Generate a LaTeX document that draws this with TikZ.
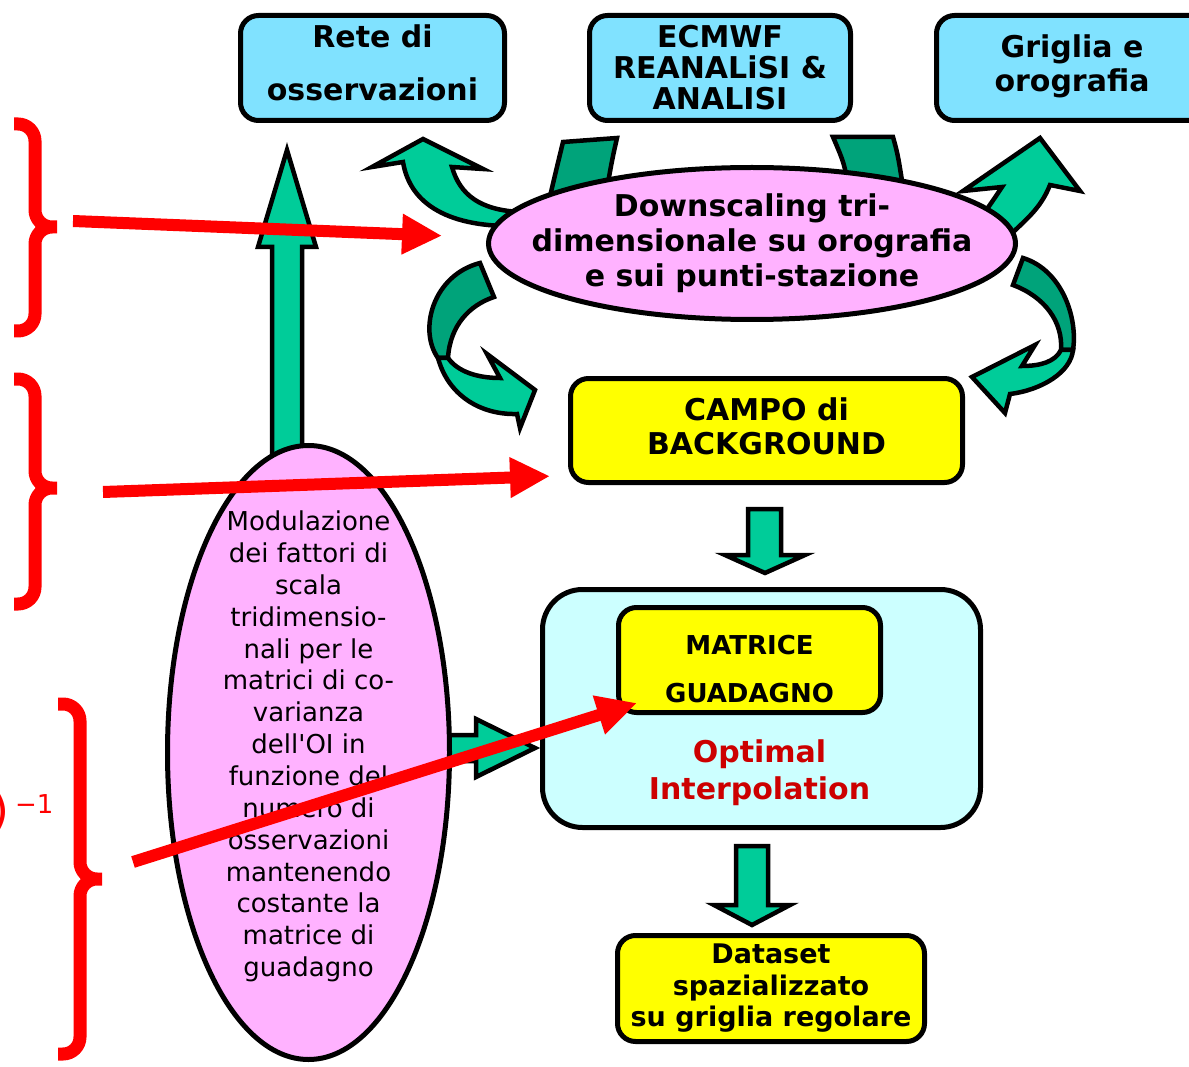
\documentclass[tikz,border=0pt]{standalone}
\usepackage{fontspec}
\setmainfont{DejaVu Sans}
\usetikzlibrary{arrows.meta,shapes.geometric}

\definecolor{topblue}{RGB}{128,226,255}
\definecolor{ovalpink}{RGB}{255,178,255}
\definecolor{oicyan}{RGB}{204,255,255}
\definecolor{boxyellow}{RGB}{255,255,0}
\definecolor{greenlight}{RGB}{0,204,153}
\definecolor{greendark}{RGB}{0,163,122}
\definecolor{darkred}{RGB}{204,0,0}

\begin{document}
\begin{tikzpicture}[x=1pt, y=-1pt,
		box/.style={draw, line width=5pt, rounded corners=18pt, align=center, inner sep=0pt},
		oval/.style={draw, ellipse, line width=5pt, fill=ovalpink, inner sep=0pt},
		bigbold/.style={font=\bfseries\fontsize{30}{#1}\selectfont},
		blockarr/.style={draw, line width=4.5pt, fill=greenlight},
		backarr/.style={draw, line width=4.5pt, fill=greendark},
		redarr/.style={draw=red, line width=12pt, -{Triangle[length=40pt, width=38pt]}},
		redbrace/.style={draw=red, line width=13pt, rounded corners=17pt}]
		\useasboundingbox (0,0) rectangle (1189,1067);

		\draw[backarr] (563,142) -- (617,138) .. controls (612,160) .. (605,200) -- (548,205) .. controls (555,175) .. (563,142) -- cycle;
		\draw[backarr] (833,137) -- (893,137) .. controls (898,155) .. (905,200) -- (850,200) .. controls (845,165) .. (833,137) -- cycle;
		\draw[blockarr] (520,212) .. controls (480,210) and (460,195) .. (452,167) -- (483,169) -- (423,139) -- (372,167) -- (403,162) .. controls (410,205) and (450,228) .. (520,226) -- cycle;
		\draw[blockarr] (975,225) .. controls (990,205) .. (1002,187) -- (963,191) -- (1040,138) -- (1080,191) -- (1050,185) .. controls (1040,210) and (1025,220) .. (1005,240) -- cycle;
		\draw[backarr] (480,263) -- (494,297) .. controls (470,305) and (450,325) .. (448,358) -- (438,358) .. controls (418,330) and (433,275) .. (480,263) -- cycle;
		\draw[blockarr] (438,358) -- (448,358) .. controls (458,372) and (478,378) .. (500,378) -- (487,354) -- (535,390) -- (520,428) -- (517,414) .. controls (480,415) and (448,395) .. (438,358) -- cycle;
		\draw[backarr] (1023,258) .. controls (1062,270) and (1078,318) .. (1073,350) -- (1061,350) .. controls (1063,322) and (1045,297) .. (1013,285) -- cycle;
		\draw[blockarr] (1073,350) -- (1061,350) .. controls (1055,362) and (1040,366) .. (1022,366) -- (1035,345) -- (972,377) -- (1005,413) -- (1010,394) .. controls (1042,390) and (1071,372) .. (1073,350) -- cycle;

		\node[box, fill=topblue, minimum width=264pt, minimum height=105pt, label={[bigbold=53, align=center, yshift=5pt]center:{Rete di\\osservazioni}}] (rete) at (372.5,68) {};
		\node[box, fill=topblue, minimum width=261pt, minimum height=105pt, bigbold=31] (ecmwf) at (720,68) {ECMWF\\REANALiSI \&\\ANALISI};
		\node[box, fill=topblue, minimum width=271pt, minimum height=105pt, label={[bigbold=34, align=center, yshift=2pt]center:{Griglia e\\orografia}}] (griglia) at (1072,68) {};
		\node[oval, minimum width=527pt, minimum height=152pt, label={[bigbold=35, align=center]center:{Downscaling tri-\\dimensionale su orografia\\e sui punti-stazione}}] (down) at (752,243.5) {};

		\node[box, fill=boxyellow, minimum width=392pt, minimum height=104pt, label={[bigbold=34, align=center, yshift=4pt]center:{CAMPO di\\BACKGROUND}}] (campo) at (766.5,430.5) {};
		\draw[blockarr] (748,509) -- (781,509) -- (781,555) -- (805,555) -- (765,573) -- (725,555) -- (748,555) -- cycle;
		\node[box, fill=oicyan, rounded corners=40pt, minimum width=438pt, minimum height=238pt] (oi) at (761.5,708.5) {};
		\node[box, fill=boxyellow, minimum width=262pt, minimum height=105pt, label={[font=\bfseries\fontsize{26}{48}\selectfont, align=center, yshift=-9pt]center:{MATRICE\\GUADAGNO}}] (gain) at (749.5,660) {};
		\node[align=center, text=darkred, bigbold=37] (oilab) at (759.5,772.5) {Optimal\\Interpolation};
		\draw[blockarr] (736,846) -- (768,846) -- (768,905) -- (790,905) -- (752,925) -- (714,905) -- (736,905) -- cycle;
		\node[box, fill=boxyellow, minimum width=307pt, minimum height=106pt, font=\bfseries\fontsize{27}{31.5}\selectfont] (dataset) at (771,988.5) {Dataset\\spazializzato\\su griglia regolare};

		\draw[blockarr] (272,480) -- (272,247) -- (258,247) -- (287,150) -- (316,247) -- (302,247) -- (302,480) -- cycle;
		\draw[blockarr] (430,735) -- (476,735) -- (476,719) -- (535,748) -- (476,777) -- (476,761) -- (430,761) -- cycle;
		\node[oval, minimum width=282pt, minimum height=614pt, label={[align=center, yshift=6pt, font=\fontsize{26}{31.86}\selectfont]center:{Modulazione\\dei fattori di\\scala\\tridimensio-\\nali per le\\matrici di co-\\varianza\\dell\textquotesingle OI in\\funzione del\\numero di\\osservazioni\\mantenendo\\costante la\\matrice di\\guadagno}}] (modul) at (308.5,752.5) {};

		\draw[redbrace] (14,124) -- (35,124) -- (35,227) -- (57,227) (14,331) -- (35,331) -- (35,227) -- (57,227);
		\draw[redbrace] (14,379) -- (35,379) -- (35,488) -- (57,488) (14,604) -- (35,604) -- (35,488) -- (57,488);
		\draw[redbrace] (58,704) -- (80,704) -- (80,879) -- (102,879) (58,1054) -- (80,1054) -- (80,879) -- (102,879);
		\node[anchor=base west, inner sep=0pt, text=red, font=\fontsize{46}{46}\selectfont] (inv) at (-9,826) {)\hspace{6pt}\raisebox{13pt}{\fontsize{26}{26}\selectfont −1}};

		\coordinate (r1) at (73,221);
		\coordinate (r2) at (103,492);
		\coordinate (r3) at (133,862);
		\draw[redarr, shorten >=44pt] (r1) -- ([yshift=6pt]down.west);
		\draw[redarr, shorten >=18pt] (r2) -- ([yshift=-45pt]campo.west);
		\draw[redarr] (r3) -- ([xshift=21pt, yshift=12pt]gain.south west);
\end{tikzpicture}
\end{document}
